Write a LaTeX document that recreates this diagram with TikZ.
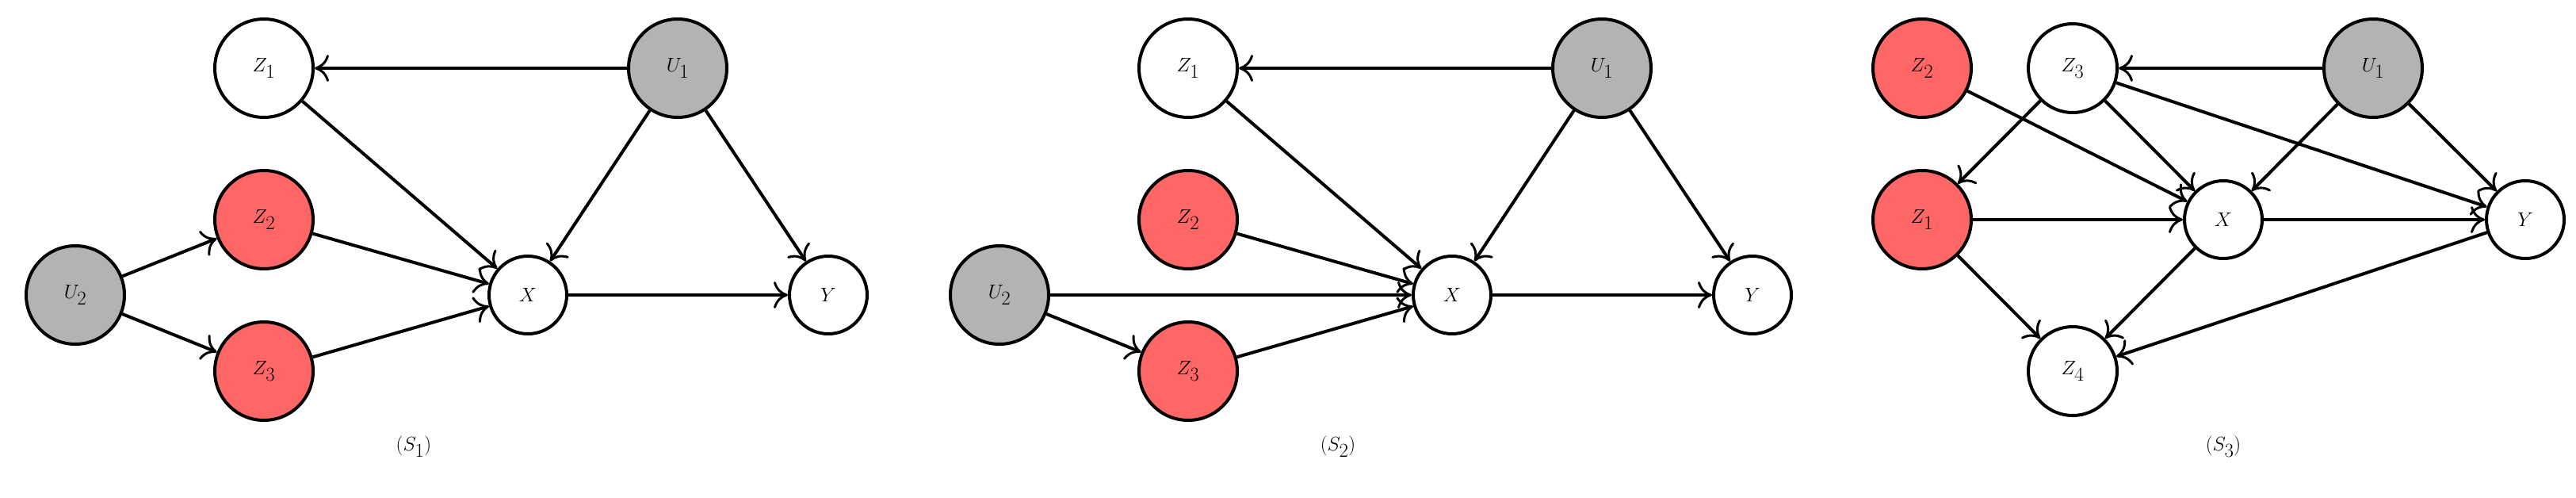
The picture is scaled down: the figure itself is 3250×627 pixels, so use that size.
\documentclass[tikz,border=0pt]{standalone}
\usetikzlibrary{arrows.meta}
\begin{document}
\begin{tikzpicture}[x=1pt,y=-1pt,
  v/.style={circle,draw,line width=4pt,inner sep=0pt,font=\fontsize{62}{70}\selectfont},
  big/.style={v,minimum size=124pt},
  mid/.style={v,minimum size=112pt},
  small/.style={v,minimum size=98pt},
  red/.style={fill={rgb,255:red,255;green,102;blue,102}},
  gry/.style={fill={rgb,255:red,179;green,179;blue,179}},
  e/.style={line width=4pt,-{Computer Modern Rightarrow[length=18pt,width=34pt,line width=3pt]}},
  lab/.style={font=\fontsize{62}{70}\selectfont}]
\useasboundingbox (0,0) rectangle (3250,627);
% S1
\begin{scope}
\node[big] (az1) at (333,86) {$Z_1$};
\node[big,gry] (au1) at (855,86) {$U_1$};
\node[big,red] (az2) at (333,277) {$Z_2$};
\node[big,gry] (au2) at (95,372) {$U_2$};
\node[big,red] (az3) at (333,468) {$Z_3$};
\node[small] (ax) at (666,372) {$X$};
\node[small] (ay) at (1045,372) {$Y$};
\node[lab] (al) at (522,563) {$(S_1)$};
\draw[e] (au1)--(az1); \draw[e] (az1)--(ax); \draw[e] (au1)--(ax); \draw[e] (au1)--(ay);
\draw[e] (az2)--(ax); \draw[e] (az3)--(ax); \draw[e] (au2)--(az2); \draw[e] (au2)--(az3);
\draw[e] (ax)--(ay);
\end{scope}
% S2
\begin{scope}[xshift=1166]
\node[big] (bz1) at (333,86) {$Z_1$};
\node[big,gry] (bu1) at (855,86) {$U_1$};
\node[big,red] (bz2) at (333,277) {$Z_2$};
\node[big,gry] (bu2) at (95,372) {$U_2$};
\node[big,red] (bz3) at (333,468) {$Z_3$};
\node[small] (bx) at (666,372) {$X$};
\node[small] (by) at (1045,372) {$Y$};
\node[lab] (bl) at (522,563) {$(S_2)$};
\draw[e] (bu1)--(bz1); \draw[e] (bz1)--(bx); \draw[e] (bu1)--(bx); \draw[e] (bu1)--(by);
\draw[e] (bz2)--(bx); \draw[e] (bz3)--(bx); \draw[e] (bu2)--(bx); \draw[e] (bu2)--(bz3);
\draw[e] (bx)--(by);
\end{scope}
% S3
\node[big,red] (cz2) at (2425,86) {$Z_2$};
\node[mid] (cz3) at (2615,86) {$Z_3$};
\node[big,gry] (cu1) at (2994,86) {$U_1$};
\node[big,red] (cz1) at (2425,277) {$Z_1$};
\node[small] (cx) at (2805,277) {$X$};
\node[small] (cy) at (3186,277) {$Y$};
\node[mid] (cz4) at (2615,468) {$Z_4$};
\node[lab] (cl) at (2805,563) {$(S_3)$};
\draw[e] (cu1)--(cz3); \draw[e] (cu1)--(cx); \draw[e] (cu1)--(cy);
\draw[e] (cz2)--(cx); \draw[e] (cz3)--(cz1); \draw[e] (cz3)--(cx); \draw[e] (cz3)--(cy);
\draw[e] (cz1)--(cx); \draw[e] (cx)--(cy); \draw[e] (cz1)--(cz4); \draw[e] (cx)--(cz4);
\draw[e] (cy)--(cz4);
\end{tikzpicture}
\end{document}
